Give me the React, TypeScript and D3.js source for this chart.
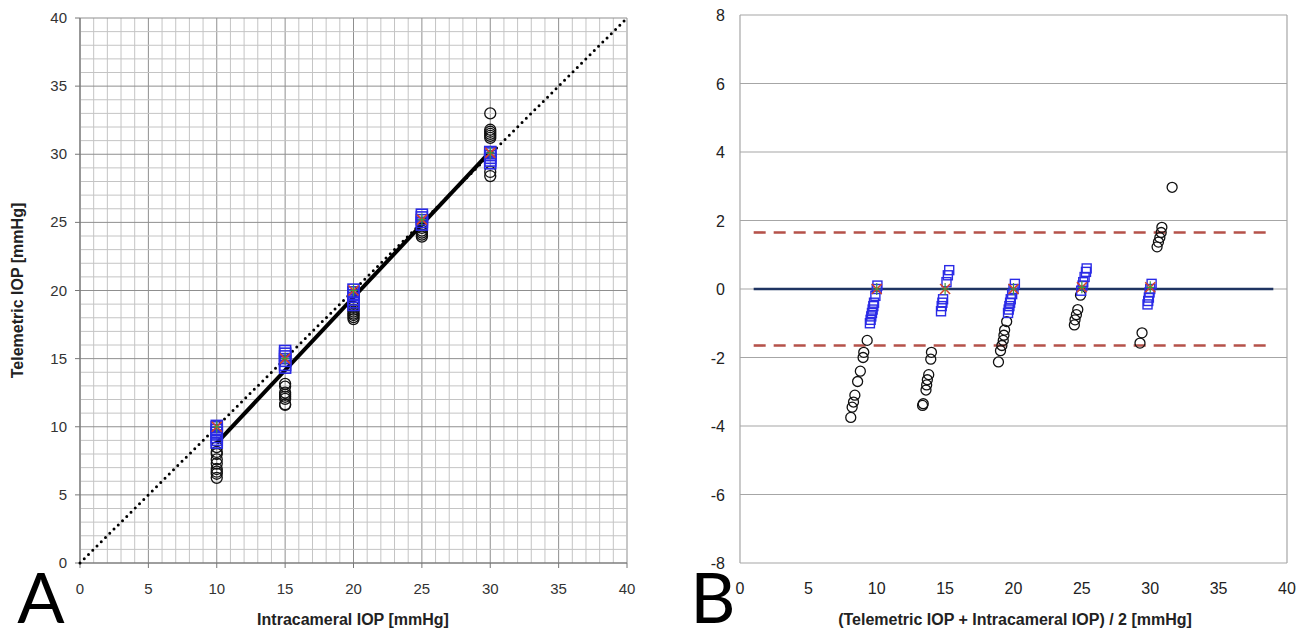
import React, { useEffect, useRef } from 'react';
import * as d3 from 'd3';

// Panel A: telemetric vs intracameral IOP
const circlesA: [number, number][] = [
  [10, 8.5], [10, 8.15], [10, 8.0], [10, 7.6], [10, 7.3], [10, 6.9], [10, 6.7], [10, 6.55], [10, 6.25],
  [15, 13.15], [15, 12.95], [15, 12.5], [15, 12.35], [15, 12.2], [15, 12.05], [15, 11.65], [15, 11.6],
  [20, 18.8], [20, 18.6], [20, 18.45], [20, 18.3], [20, 18.2], [20, 18.05], [20, 17.9],
  [25, 24.6], [25, 24.4], [25, 24.25], [25, 24.1], [25, 23.95],
  [30, 33.0], [30, 31.8], [30, 31.65], [30, 31.5], [30, 31.35], [30, 31.2], [30, 28.7], [30, 28.4],
];
const squaresA: [number, number][] = [
  [10, 8.8], [10, 9.0], [10, 9.2], [10, 9.4], [10, 9.6], [10, 9.8], [10, 10.0], [10, 10.1],
  [15, 14.3], [15, 14.5], [15, 14.8], [15, 15.0], [15, 15.2], [15, 15.4], [15, 15.6],
  [20, 18.9], [20, 19.1], [20, 19.3], [20, 19.5], [20, 19.7], [20, 19.9], [20, 20.1],
  [25, 24.8], [25, 25.0], [25, 25.2], [25, 25.4], [25, 25.6],
  [30, 29.3], [30, 29.5], [30, 29.7], [30, 29.9], [30, 30.1], [30, 30.2],
];
const meansA: [number, number][] = [[10, 10], [15, 15], [20, 20], [25, 25.2], [30, 30.1]];
const regressionA: [number, number][] = [[10, 8.8], [30, 30.2]];
const identityA: [number, number][] = [[0, 0], [40, 40]];
const ticksA = [0, 5, 10, 15, 20, 25, 30, 35, 40];

// Panel B: Bland-Altman
const circlesB: [number, number][] = [
  [9.3, -1.5], [9.05, -1.85], [9.0, -2.0], [8.8, -2.4], [8.6, -2.7], [8.4, -3.1], [8.3, -3.3], [8.2, -3.45], [8.1, -3.75],
  [14.0, -1.85], [13.95, -2.05], [13.8, -2.5], [13.7, -2.65], [13.65, -2.8], [13.6, -2.95], [13.4, -3.35], [13.35, -3.4],
  [19.5, -0.95], [19.35, -1.2], [19.3, -1.35], [19.25, -1.5], [19.15, -1.65], [19.05, -1.8], [18.9, -2.13],
  [24.9, -0.18], [24.7, -0.6], [24.6, -0.75], [24.5, -0.9], [24.45, -1.05],
  [31.6, 2.97], [30.85, 1.8], [30.8, 1.65], [30.7, 1.5], [30.6, 1.37], [30.5, 1.23], [29.4, -1.28], [29.25, -1.58],
];
const squaresB: [number, number][] = [
  [9.5, -1.0], [9.55, -0.9], [9.6, -0.8], [9.65, -0.7], [9.7, -0.6], [9.75, -0.5], [9.8, -0.4], [9.9, -0.2], [10.0, 0], [10.05, 0.1],
  [15.3, 0.55], [15.2, 0.4], [15.1, 0.2], [14.85, -0.3], [14.8, -0.4], [14.75, -0.5], [14.7, -0.65],
  [19.6, -0.7], [19.65, -0.6], [19.7, -0.5], [19.75, -0.4], [19.8, -0.3], [19.9, -0.15], [20.0, 0], [20.1, 0.15],
  [24.95, -0.05], [25.05, 0.1], [25.1, 0.2], [25.2, 0.35], [25.3, 0.5], [25.35, 0.6],
  [29.8, -0.45], [29.85, -0.35], [29.9, -0.25], [29.95, -0.1], [30.0, 0], [30.1, 0.15],
];
const meansB: [number, number][] = [[10, 0], [15, 0], [20, 0], [25, 0.05], [30, 0.05]];
const biasB = 0;
const limitsB = [1.65, -1.65];
const lineRangeB = [1, 39];
const xTicksB = [0, 5, 10, 15, 20, 25, 30, 35, 40];
const yTicksB = [8, 6, 4, 2, 0, -2, -4, -6, -8];

const FONT = '"Liberation Sans", Arial, sans-serif';
const LETTER_FONT = 'Lato, "Open Sans", sans-serif';

export default function App() {
  const ref = useRef<SVGSVGElement>(null);

  useEffect(() => {
    const svg = d3.select(ref.current);
    svg.selectAll('*').remove();

    // ---------- Panel A ----------
    const xA = d3.scaleLinear().domain([0, 40]).range([80, 627]);
    const yA = d3.scaleLinear().domain([0, 40]).range([563, 18]);
    const gA = svg.append('g');

    const minor = d3.range(0, 41, 1);
    gA.selectAll('.vminor').data(minor).join('line')
      .attr('x1', (d) => xA(d)).attr('x2', (d) => xA(d))
      .attr('y1', yA(0)).attr('y2', yA(40))
      .attr('stroke', (d) => (d % 5 === 0 ? '#8f8f8f' : '#c4c4c4'))
      .attr('stroke-width', 1);
    gA.selectAll('.hminor').data(minor).join('line')
      .attr('y1', (d) => yA(d)).attr('y2', (d) => yA(d))
      .attr('x1', xA(0)).attr('x2', xA(40))
      .attr('stroke', (d) => (d % 5 === 0 ? '#8f8f8f' : '#c4c4c4'))
      .attr('stroke-width', 1);

    // axes
    gA.append('line').attr('x1', xA(0)).attr('x2', xA(40)).attr('y1', yA(0)).attr('y2', yA(0))
      .attr('stroke', '#777').attr('stroke-width', 1.2);
    gA.append('line').attr('x1', xA(0)).attr('x2', xA(0)).attr('y1', yA(0)).attr('y2', yA(40))
      .attr('stroke', '#777').attr('stroke-width', 1.2);
    gA.selectAll('.xt').data(ticksA).join('line')
      .attr('x1', (d) => xA(d)).attr('x2', (d) => xA(d)).attr('y1', yA(0)).attr('y2', yA(0) + 5)
      .attr('stroke', '#777');
    gA.selectAll('.yt').data(ticksA).join('line')
      .attr('y1', (d) => yA(d)).attr('y2', (d) => yA(d)).attr('x1', xA(0) - 5).attr('x2', xA(0))
      .attr('stroke', '#777');
    gA.selectAll('.xl').data(ticksA).join('text')
      .attr('x', (d) => xA(d)).attr('y', 594)
      .attr('text-anchor', 'middle').attr('font-family', FONT).attr('font-size', 15).attr('fill', '#333')
      .text((d) => d);
    gA.selectAll('.yl').data(ticksA).join('text')
      .attr('x', 67).attr('y', (d) => yA(d) + 5)
      .attr('text-anchor', 'end').attr('font-family', FONT).attr('font-size', 15).attr('fill', '#333')
      .text((d) => d);

    // identity line (dotted)
    const lineA = d3.line<[number, number]>().x((d) => xA(d[0])).y((d) => yA(d[1]));
    gA.append('path').attr('d', lineA(identityA)).attr('fill', 'none')
      .attr('stroke', '#000').attr('stroke-width', 3).attr('stroke-linecap', 'round')
      .attr('stroke-dasharray', '0 6');

    gA.selectAll('.ca').data(circlesA).join('circle')
      .attr('cx', (d) => xA(d[0])).attr('cy', (d) => yA(d[1])).attr('r', 5.5)
      .attr('fill', 'none').attr('stroke', '#111').attr('stroke-width', 1.3);

    // regression line
    gA.append('path').attr('d', lineA(regressionA)).attr('fill', 'none')
      .attr('stroke', '#000').attr('stroke-width', 4);

    gA.selectAll('.sa').data(squaresA).join('rect')
      .attr('x', (d) => xA(d[0]) - 5.5).attr('y', (d) => yA(d[1]) - 5)
      .attr('width', 11).attr('height', 10)
      .attr('fill', 'none').attr('stroke', '#2a2ae6').attr('stroke-width', 1.6);

    const drawMeans = (g: any, data: [number, number][], sx: any, sy: any) => {
      g.selectAll(null).data(data).join('path')
        .attr('d', (d: [number, number]) => {
          const cx = sx(d[0]), cy = sy(d[1]);
          return `M${cx - 5},${cy - 5}L${cx + 5},${cy + 5}M${cx - 5},${cy + 5}L${cx + 5},${cy - 5}`;
        })
        .attr('stroke', '#d2452b').attr('stroke-width', 1.6).attr('fill', 'none');
      g.selectAll(null).data(data).join('path')
        .attr('d', (d: [number, number]) => {
          const cx = sx(d[0]), cy = sy(d[1]);
          return `M${cx},${cy - 6}L${cx},${cy + 6}M${cx - 4},${cy}L${cx + 4},${cy}`;
        })
        .attr('stroke', '#3c9a3c').attr('stroke-width', 1.2).attr('fill', 'none');
    };
    drawMeans(gA, meansA, xA, yA);

    gA.append('text').attr('x', 353).attr('y', 625)
      .attr('text-anchor', 'middle').attr('font-family', FONT).attr('font-weight', 'bold')
      .attr('font-size', 16).attr('fill', '#222').text('Intracameral IOP [mmHg]');
    gA.append('text').attr('transform', `translate(23,${yA(20)}) rotate(-90)`)
      .attr('text-anchor', 'middle').attr('font-family', FONT).attr('font-weight', 'bold')
      .attr('font-size', 16).attr('fill', '#222').text('Telemetric IOP [mmHg]');
    gA.append('text').attr('x', 41).attr('y', 623).attr('text-anchor', 'middle')
      .attr('font-family', LETTER_FONT).attr('font-weight', 400)
      .attr('font-size', 70).attr('fill', '#000').text('A');

    // ---------- Panel B ----------
    const xB = d3.scaleLinear().domain([0, 40]).range([740, 1287]);
    const yB = d3.scaleLinear().domain([-8, 8]).range([563, 15]);
    const gB = svg.append('g');

    gB.selectAll('.grid').data(yTicksB).join('line')
      .attr('x1', xB(0)).attr('x2', xB(40)).attr('y1', (d) => yB(d)).attr('y2', (d) => yB(d))
      .attr('stroke', '#a6a6a6').attr('stroke-width', 1.2);
    gB.append('line').attr('x1', xB(0)).attr('x2', xB(0)).attr('y1', yB(-8)).attr('y2', yB(8))
      .attr('stroke', '#a6a6a6').attr('stroke-width', 1.2);
    gB.append('line').attr('x1', xB(40)).attr('x2', xB(40)).attr('y1', yB(-8)).attr('y2', yB(8))
      .attr('stroke', '#a6a6a6').attr('stroke-width', 1.2);

    gB.selectAll('.xl').data(xTicksB).join('text')
      .attr('x', (d) => xB(d)).attr('y', 594)
      .attr('text-anchor', 'middle').attr('font-family', FONT).attr('font-size', 16).attr('fill', '#222')
      .text((d) => d);
    gB.selectAll('.yl').data(yTicksB).join('text')
      .attr('x', 725).attr('y', (d) => yB(d) + 6)
      .attr('text-anchor', 'end').attr('font-family', FONT).attr('font-size', 16).attr('fill', '#222')
      .text((d) => d);

    // limits of agreement
    gB.selectAll('.loa').data(limitsB).join('line')
      .attr('x1', xB(lineRangeB[0])).attr('x2', xB(lineRangeB[1]))
      .attr('y1', (d) => yB(d)).attr('y2', (d) => yB(d))
      .attr('stroke', '#b5524a').attr('stroke-width', 2.6).attr('stroke-dasharray', '12 8');

    // mean difference
    gB.append('line').attr('x1', xB(lineRangeB[0])).attr('x2', xB(lineRangeB[1]))
      .attr('y1', yB(biasB)).attr('y2', yB(biasB))
      .attr('stroke', '#1f3462').attr('stroke-width', 2.4);

    gB.selectAll('.cb').data(circlesB).join('circle')
      .attr('cx', (d) => xB(d[0])).attr('cy', (d) => yB(d[1])).attr('r', 5)
      .attr('fill', 'none').attr('stroke', '#111').attr('stroke-width', 1.3);

    gB.selectAll('.sb').data(squaresB).join('rect')
      .attr('x', (d) => xB(d[0]) - 4.5).attr('y', (d) => yB(d[1]) - 4.5)
      .attr('width', 9).attr('height', 9)
      .attr('fill', 'none').attr('stroke', '#2a2ae6').attr('stroke-width', 1.4);

    drawMeans(gB, meansB, xB, yB);

    gB.append('text').attr('x', 1015).attr('y', 625)
      .attr('text-anchor', 'middle').attr('font-family', FONT).attr('font-weight', 'bold')
      .attr('font-size', 16).attr('fill', '#222').text('(Telemetric IOP + Intracameral IOP) / 2 [mmHg]');
    gB.append('text').attr('x', 713).attr('y', 623).attr('text-anchor', 'middle')
      .attr('font-family', LETTER_FONT).attr('font-weight', 400)
      .attr('font-size', 70).attr('fill', '#000').text('B');
  }, []);

  return (
    <div style={{ position: 'absolute', left: 0, top: 0 }}>
      <svg ref={ref} width={1301} height={629} style={{ display: 'block', background: '#fff' }} />
    </div>
  );
}
